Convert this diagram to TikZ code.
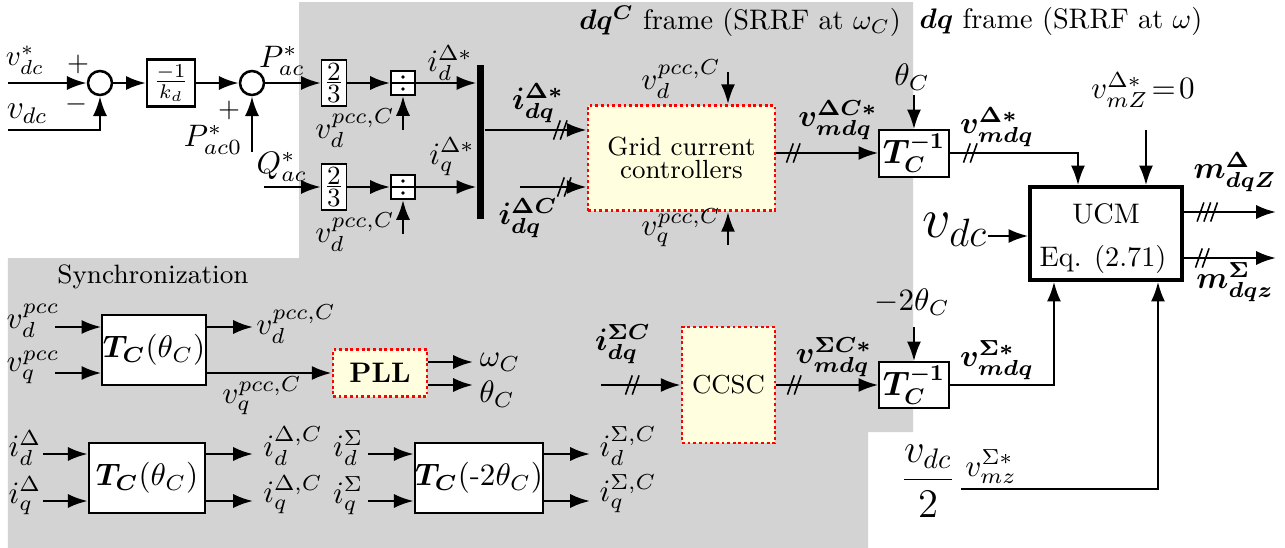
\RequirePackage{fix-cm}
\documentclass[tikz,border=0pt]{standalone}
\usepackage{amsmath,bm}
\usetikzlibrary{arrows.meta,calc}
\definecolor{bggray}{RGB}{211,211,211}
\definecolor{boxyellow}{RGB}{255,255,224}
\def\pxu{0.354pt}
\tikzset{
  conn/.style={line width=0.9pt,-{Latex[length=7pt,width=5pt]}},
  blk/.style args={#1/#2}{draw,line width=0.5pt,fill=white,inner sep=0pt,minimum width=#1*\pxu,minimum height=#2*\pxu},
  ctrl/.style args={#1/#2}{draw=red,line width=1pt,dash pattern=on 1pt off 1pt,fill=boxyellow,inner sep=0pt,minimum width=#1*\pxu,minimum height=#2*\pxu,align=center},
  sumc/.style={draw,circle,line width=0.9pt,fill=white,minimum size=24*\pxu,inner sep=0pt},
  lbl/.style={inner sep=0pt,font=\fontsize{11}{13}\selectfont},
  txt/.style={inner sep=0pt,font=\fontsize{10}{12}\selectfont},
  dsl/.pic={\draw[line width=0.55pt] (-2.3pt,-3.4pt)--(0.1pt,3.4pt) (0.1pt,-3.4pt)--(2.5pt,3.4pt);},
  tsl/.pic={\draw[line width=0.55pt] (-3.5pt,-3.4pt)--(-1.1pt,3.4pt) (-1.1pt,-3.4pt)--(1.3pt,3.4pt) (1.3pt,-3.4pt)--(3.7pt,3.4pt);},
}
\newcommand{\twothirds}{\fontsize{9.3}{11}\selectfont$\vcenter{\hbox{2}\kern0.7pt\hrule height 0.4pt\kern0.7pt\hbox{3}}$}
\begin{document}
\begin{tikzpicture}[x=0.354pt,y=-0.354pt]
\useasboundingbox (0,0) rectangle (1285,548);
\fill[bggray] (299,2) -- (913,2) -- (913,432) -- (868,432) -- (868,548) -- (8,548) -- (8,258) -- (299,258) -- cycle;

% frame labels
\node[txt] (fC) at (740,21) {$\bm{dq^C}$ frame (SRRF at $\omega_C$)};
\node[txt] (fG) at (1061,21) {$\bm{dq}$ frame (SRRF at $\omega$)};

% DC voltage control
\node[sumc] (s1) at (100,83) {};
\node[blk={48/47},line width=0.8pt] (kd) at (171,83) {$\frac{-1}{k_d}$};
\node[sumc] (s2) at (252,83) {};
\node[lbl,font=\fontsize{10.3}{12}\selectfont] (vdcsl) at (25,60) {$v_{dc}^*$};
\node[lbl,font=\fontsize{12}{14}\selectfont] (vdcl) at (27,114) {$v_{dc}$};
\node[txt] (p1) at (78,64) {$+$};
\node[txt] (m1) at (76,104) {$-$};
\node[txt] (p2) at (229,110) {$+$};
\node[lbl] (pac0) at (213,140) {$P_{ac0}^*$};
\node[lbl] (pac) at (282,61) {$P_{ac}^*$};
\node[lbl] (qac) at (282,167) {$Q_{ac}^*$};
\coordinate (a1) at (8,83);
\coordinate (a2) at (8,130);
\coordinate (a3) at (252,152);
\coordinate (a4) at (264,187);
\draw[conn] (a1) -- (s1.west);
\draw[conn] (a2) -| (s1.south);
\draw[conn] (s1) -- (kd);
\draw[conn] (kd) -- (s2);
\draw[conn] (a3) -- (s2.south);

% 2/3 and division blocks
\node[blk={25/46}] (g1) at (334,83) {\twothirds};
\node[blk={25/46}] (g2) at (334,187) {\twothirds};
\draw[conn] (s2) -- (g1);
\draw[conn] (a4) -- (g2);
\node[blk={24/24},line width=0.7pt] (d1) at (403,83) {};
\node[blk={24/24},line width=0.7pt] (d2) at (403,187) {};
\foreach \d in {d1,d2}{
  \draw[line width=0.6pt] (\d.west) -- (\d.east);
  \fill (\d.center) ++(0,-6) circle (0.65pt);
  \fill (\d.center) ++(0,6) circle (0.65pt);
}
\node[fill=black,inner sep=0pt,minimum width=7*\pxu,minimum height=154*\pxu] (bar) at (480.5,142) {};
\draw[conn] (g1) -- (d1);
\draw[conn] (g2) -- (d2);
\coordinate (a5) at (403,130);
\coordinate (a6) at (403,234);
\draw[conn] (a5) -- (d1.south);
\draw[conn] (a6) -- (d2.south);
\draw[conn] (d1.east) -- (d1.east -| bar.west);
\draw[conn] (d2.east) -- (d2.east -| bar.west);
\node[lbl] (vdpc1) at (355,128) {$v_d^{pcc,C}$};
\node[lbl] (vdpc2) at (355,232) {$v_d^{pcc,C}$};
\node[lbl] (idl) at (450,63) {$i_d^{\Delta *}$};
\node[lbl] (iql) at (452,157) {$i_q^{\Delta *}$};

% grid current controllers
\node[ctrl={187/105},font=\fontsize{9.3}{8.2}\selectfont] (grid) at (681.5,158) {Grid current\\controllers};
\coordinate (y130) at (0,130);
\coordinate (y153) at (0,153);
\draw[conn] (bar.east |- y130) -- (grid.west |- y130);
\coordinate (a7) at (520,187);
\draw[conn] (a7) -- (grid.west |- a7);
\pic at (560,130) {dsl};
\pic at (564,187) {dsl};
\node[lbl] (idqs) at (538,103) {$\bm{i_{dq}^{\Delta *}}$};
\node[lbl] (idqc) at (528,218) {$\bm{i_{dq}^{\Delta C}}$};
\node[lbl] (vdg) at (681,79) {$v_d^{pcc,C}$};
\node[lbl] (vqg) at (681,228) {$v_q^{pcc,C}$};
\coordinate (a8) at (728,72);
\coordinate (a9) at (728,245);
\draw[conn] (a8) -- (grid.north -| a8);
\draw[conn] (a9) -- (grid.south -| a9);

% inverse transform (Delta)
\node[blk={70/47}] (t1) at (914,153.5) {\fontsize{12}{14}\selectfont$\bm{T_C^{-1}}$};
\draw[conn] (grid.east |- y153) -- (t1.west |- y153);
\pic at (793,153) {dsl};
\node[lbl] (vmdqc) at (838,120) {$\bm{v_{mdq}^{\Delta C *}}$};
\node[lbl] (thc) at (912,77) {$\theta_C$};
\coordinate (a10) at (914,95);
\draw[conn] (a10) -- (t1.north);

% UCM
\node[blk={152/93},line width=1.2pt] (ucm) at (1106,233.5) {};
\node[txt] (ucm1) at (1106,214) {UCM};
\node[txt] (ucm2) at (1103,259) {Eq. (2.71)};
\coordinate (ux1) at (1078,0);
\draw[conn] (t1.east |- y153) -| (ux1 |- ucm.north);
\pic at (970,153) {dsl};
\node[lbl] (vmdqd) at (997,127) {$\bm{v_{mdq}^{\Delta *}}$};
\node[lbl] (vmz) at (1143,90) {$v_{mZ}^{\Delta *}\!=\!0$};
\coordinate (a11) at (1146,130);
\draw[conn] (a11) -- (a11 |- ucm.north);
\node[inner sep=0pt,font=\fontsize{20}{24}\selectfont] (vdcb) at (955,230) {$v_{dc}$};
\coordinate (a12) at (988,236);
\draw[conn] (a12) -- (a12 -| ucm.west);
\coordinate (o1) at (1276,212);
\coordinate (o2) at (1276,258);
\draw[conn] (o1 -| ucm.east) -- (o1);
\draw[conn] (o2 -| ucm.east) -- (o2);
\pic at (1207,212) {tsl};
\pic at (1202,258) {dsl};
\node[lbl] (mz) at (1235,172) {$\bm{m_{dqZ}^{\Delta}}$};
\node[lbl] (ms) at (1235,282) {$\bm{m_{dqz}^{\Sigma}}$};

% inverse transform (Sigma)
\node[blk={70/46}] (t2) at (914,385) {\fontsize{12}{14}\selectfont$\bm{T_C^{-1}}$};
\node[lbl] (m2th) at (912,302) {$-2\theta_C$};
\coordinate (a13) at (914,327);
\draw[conn] (a13) -- (t2.north);
\coordinate (ux2) at (1054,0);
\draw[conn] (t2.east) -| (ux2 |- ucm.south);
\node[lbl] (vmdqs) at (997,360) {$\bm{v_{mdq}^{\Sigma *}}$};
\node[inner sep=0pt,font=\fontsize{14.4}{17}\selectfont] (vdc2) at (928,481) {$\dfrac{v_{dc}}{2}$};
\node[lbl] (vmzs) at (991,467) {$v_{mz}^{\Sigma *}$};
\coordinate (a14) at (961,489);
\coordinate (ux3) at (1158,0);
\draw[conn] (a14) -| (ux3 |- ucm.south);

% CCSC
\node[ctrl={93/116},font=\fontsize{9.2}{11}\selectfont] (ccsc) at (728.5,385) {CCSC};
\coordinate (a15) at (601,385);
\draw[conn] (a15) -- (ccsc.west);
\draw[conn] (ccsc.east) -- (t2.west);
\pic at (632,385) {dsl};
\pic at (794,385) {dsl};
\node[lbl] (idqsc) at (623,344) {$\bm{i_{dq}^{\Sigma C}}$};
\node[lbl] (vmdqsc) at (834,357) {$\bm{v_{mdq}^{\Sigma C *}}$};

% synchronization
\node[txt,font=\fontsize{9.4}{11}\selectfont] (sync) at (153,277) {Synchronization};
\node[blk={104/70}] (tca) at (154,350) {\fontsize{11}{13}\selectfont$\bm{T_C}(\theta_C)$};
\node[lbl] (vdp) at (33,321) {$v_d^{pcc}$};
\node[lbl] (vqp) at (33,367) {$v_q^{pcc}$};
\coordinate (b1) at (55,327);
\coordinate (b2) at (55,373);
\draw[conn] (b1) -- (b1 -| tca.west);
\draw[conn] (b2) -- (b2 -| tca.west);
\coordinate (b3) at (253,327);
\draw[conn] (b3 -| tca.east) -- (b3);
\node[lbl] (vdpcs) at (296,324) {$v_d^{pcc,C}$};
\node[ctrl={94/47}] (pll) at (380,373) {\textbf{PLL}};
\draw[conn] (b2 -| tca.east) -- (pll.west);
\node[lbl] (vqpcs) at (262,396) {$v_q^{pcc,C}$};
\coordinate (b4) at (473,362);
\coordinate (b5) at (473,385);
\draw[conn] (b4 -| pll.east) -- (b4);
\draw[conn] (b5 -| pll.east) -- (b5);
\node[lbl] (omc) at (500,362) {$\omega_C$};
\node[lbl] (thc2) at (497,394) {$\theta_C$};

% current transforms
\node[blk={116/70},line width=0.9pt] (tcb) at (147,478) {\fontsize{11}{13}\selectfont$\bm{T_C}(\theta_C)$};
\node[blk={128/70},line width=0.9pt] (tcc) at (479,478) {\fontsize{11}{13}\selectfont$\bm{T_C}(\mbox{-}2\theta_C)$};
\coordinate (c1) at (43,454);
\coordinate (c2) at (43,501);
\draw[conn] (c1) -- (c1 -| tcb.west);
\draw[conn] (c2) -- (c2 -| tcb.west);
\coordinate (c3) at (253,454);
\coordinate (c4) at (253,501);
\draw[conn] (c3 -| tcb.east) -- (c3);
\draw[conn] (c4 -| tcb.east) -- (c4);
\coordinate (c5) at (368,454);
\coordinate (c6) at (368,501);
\draw[conn] (c5) -- (c5 -| tcc.west);
\draw[conn] (c6) -- (c6 -| tcc.west);
\coordinate (c7) at (590,454);
\coordinate (c8) at (590,501);
\draw[conn] (c7 -| tcc.east) -- (c7);
\draw[conn] (c8 -| tcc.east) -- (c8);
\node[lbl] (idd) at (25,448) {$i_d^{\Delta}$};
\node[lbl] (iqd) at (25,496) {$i_q^{\Delta}$};
\node[lbl] (iddc) at (293,446) {$i_d^{\Delta,C}$};
\node[lbl] (iqdc) at (293,495) {$i_q^{\Delta,C}$};
\node[lbl] (ids) at (348,448) {$i_d^{\Sigma}$};
\node[lbl] (iqs) at (348,496) {$i_q^{\Sigma}$};
\node[lbl] (idsc) at (628,446) {$i_d^{\Sigma,C}$};
\node[lbl] (iqsc) at (628,494) {$i_q^{\Sigma,C}$};
\end{tikzpicture}
\end{document}
